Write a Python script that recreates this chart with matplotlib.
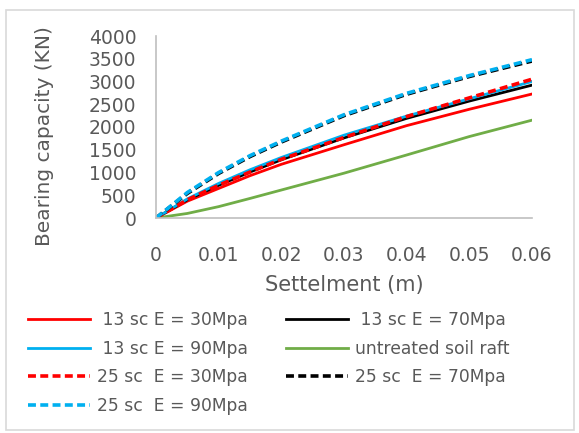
import matplotlib
matplotlib.use("Agg")
import matplotlib.pyplot as plt
from matplotlib.patches import Rectangle

settlement = [0, 0.005, 0.01, 0.015, 0.02, 0.03, 0.04, 0.05, 0.06]
sc13_e30 = [0, 370, 650, 930, 1180, 1610, 2030, 2390, 2725]
sc13_e70 = [0, 400, 720, 1010, 1280, 1760, 2190, 2570, 2920]
sc13_e90 = [0, 420, 760, 1060, 1330, 1820, 2240, 2620, 3000]
untreated = [0, 100, 250, 430, 615, 985, 1385, 1790, 2150]
sc25_e30 = [0, 400, 720, 1010, 1290, 1770, 2230, 2640, 3050]
sc25_e70 = [0, 540, 980, 1350, 1670, 2250, 2720, 3110, 3450]
sc25_e90 = [0, 560, 1000, 1370, 1690, 2270, 2740, 3130, 3480]

labels = [" 13 sc E = 30Mpa", " 13 sc E = 70Mpa", " 13 sc E = 90Mpa",
          "untreated soil raft", "25 sc  E = 30Mpa", "25 sc  E = 70Mpa",
          "25 sc  E = 90Mpa"]
xticks = [0, 0.01, 0.02, 0.03, 0.04, 0.05, 0.06]
xticklabels = ["0", "0.01", "0.02", "0.03", "0.04", "0.05", "0.06"]
yticks = [0, 500, 1000, 1500, 2000, 2500, 3000, 3500, 4000]

plt.rcParams['font.family'] = ['DejaVu Sans']
txt = '#595959'

fig = plt.figure(figsize=(5.79, 4.33), dpi=100)
fig.patches.append(Rectangle((6/579, 3/433), 568/579, 420/433, transform=fig.transFigure,
                             fill=False, edgecolor='#D9D9D9', linewidth=1.2))
ax = fig.add_axes([156/579, 1-218/433, 376/579, 182/433])

series = [
    (sc13_e30, '#FF0000', '-'),
    (sc13_e70, '#000000', '-'),
    (sc13_e90, '#00B0F0', '-'),
    (untreated, '#70AD47', '-'),
    (sc25_e30, '#FF0000', '--'),
    (sc25_e70, '#000000', '--'),
    (sc25_e90, '#00B0F0', '--'),
]
lines = []
for (vals, col, ls), lab in zip(series, labels):
    if ls == '--':
        l, = ax.plot(settlement, vals, color=col, linewidth=2.6, dashes=(2.2, 1.2), label=lab)
    else:
        l, = ax.plot(settlement, vals, color=col, linewidth=2.0, label=lab)
    lines.append(l)

ax.set_xlim(0, 0.06)
ax.set_ylim(0, 4000)
ax.set_xticks(xticks)
ax.set_xticklabels(xticklabels)
ax.set_yticks(yticks)
for s in ['top', 'right']:
    ax.spines[s].set_visible(False)
for s in ['left', 'bottom']:
    ax.spines[s].set_color('#BFBFBF')
    ax.spines[s].set_linewidth(1.2)
ax.tick_params(length=0, labelsize=13.5, colors=txt)
ax.tick_params(axis='x', pad=20)
ax.tick_params(axis='y', pad=14)
ax.set_xlabel('Settelment (m)', fontsize=15, color=txt)
ax.set_ylabel('Bearing capacity (KN)', fontsize=14.5, color=txt)
ax.xaxis.set_label_coords(0.5, -0.315)
ax.yaxis.set_label_coords(-0.27, 0.45)

# row-wise legend order for a 2-column, 4-row layout (column-major fill)
order = [0, 2, 4, 6, 1, 3, 5]
fig.legend(handles=[lines[i] for i in order], labels=[labels[i] for i in order],
           loc='upper left', bbox_to_anchor=(23/579, 1-306/433),
           ncol=2, frameon=False, fontsize=12.3, labelcolor=txt, handlelength=3.6,
           handletextpad=0.45, columnspacing=2.23, labelspacing=0.62,
           borderaxespad=0, borderpad=0.3)

fig.savefig('out.png', dpi=100)
